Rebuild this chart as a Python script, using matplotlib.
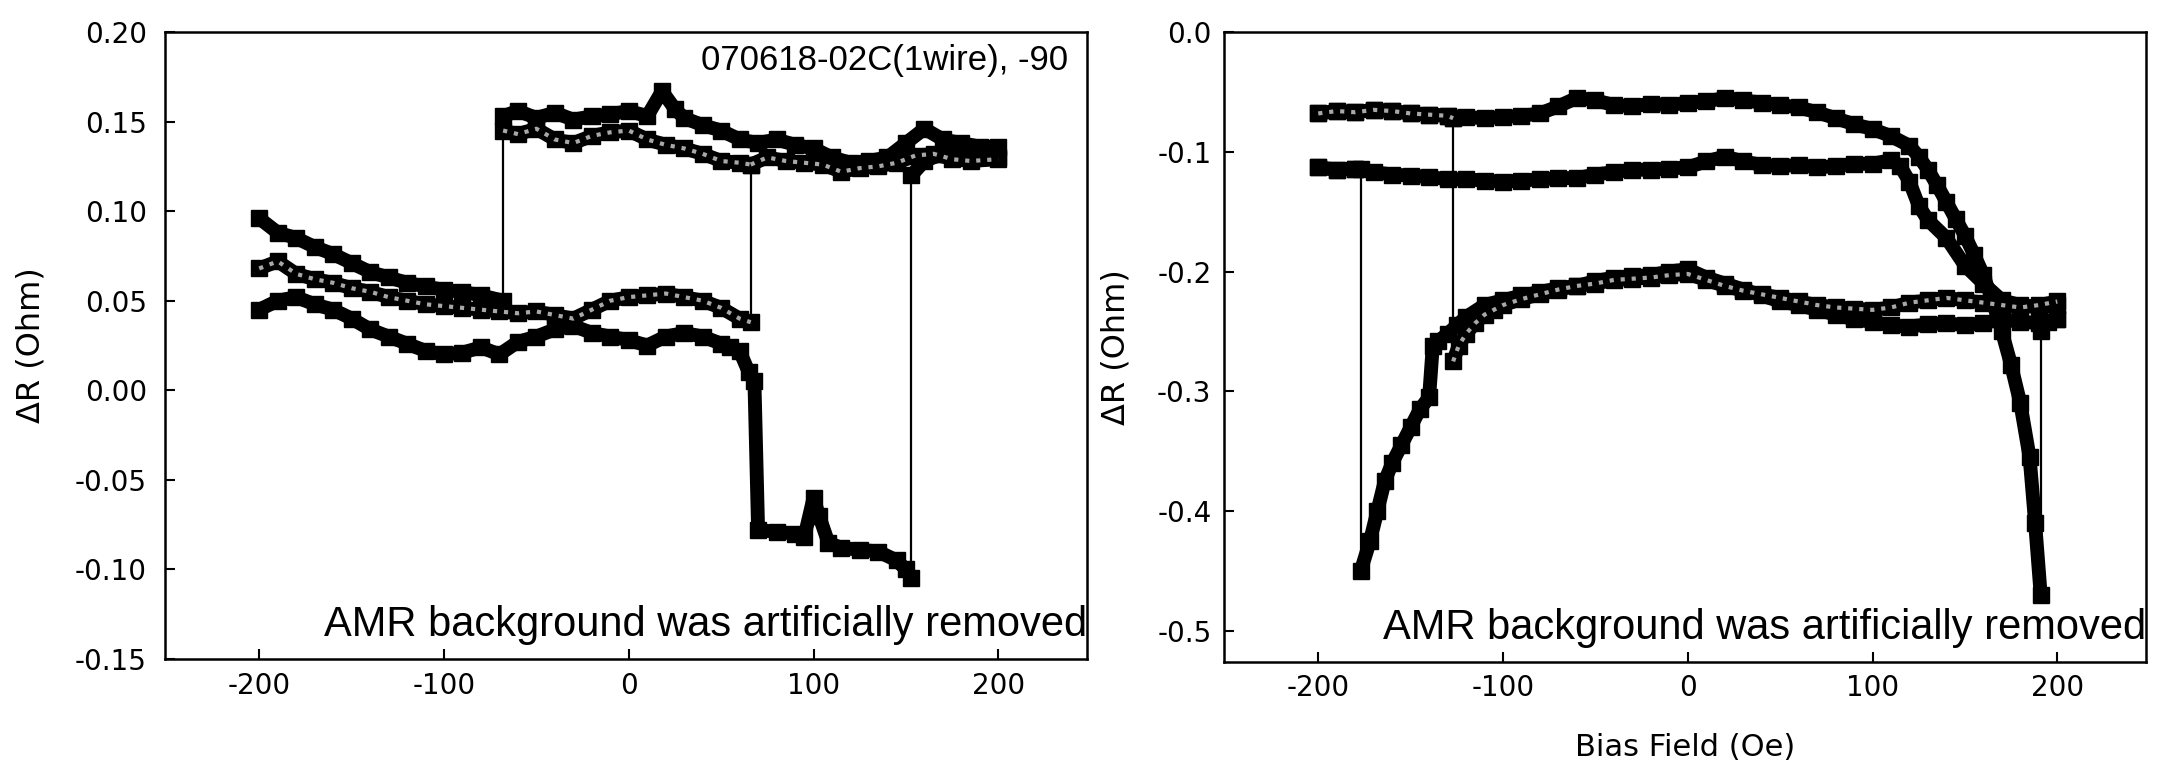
import numpy as np
import matplotlib
matplotlib.use("Agg")
import matplotlib.pyplot as plt

plt.rcParams['font.family'] = ['Liberation Sans', 'DejaVu Sans']

# ---- left panel data (Bias field in Oe, dR in Ohm) ----
# branch A: low part then jump up to the top band
la_x = [-200, -190, -180, -170, -160, -150, -140, -130, -120, -110, -100, -90, -80, -68]
la_y = [0.096, 0.088, 0.085, 0.080, 0.076, 0.071, 0.066, 0.063, 0.060, 0.058, 0.056, 0.055, 0.053, 0.050]
ta_x = [-68, -60, -50, -40, -30, -20, -10, 0, 10, 18, 25, 30, 40, 50, 60, 70, 80, 90, 100,
        110, 120, 130, 140, 150, 160, 170, 180, 190, 200]
ta_y = [0.153, 0.156, 0.152, 0.155, 0.151, 0.153, 0.154, 0.156, 0.153, 0.167, 0.157, 0.152, 0.148,
        0.145, 0.140, 0.138, 0.140, 0.137, 0.135, 0.130, 0.127, 0.128, 0.130, 0.138, 0.146, 0.140,
        0.138, 0.136, 0.136]

# branch B: middle low part then jump at +66
lb_x = [-200, -190, -180, -170, -160, -150, -140, -130, -120, -110, -100, -90, -80, -70, -60,
        -50, -40, -30, -20, -10, 0, 10, 20, 30, 40, 50, 60, 66]
lb_y = [0.068, 0.072, 0.065, 0.062, 0.060, 0.057, 0.055, 0.052, 0.050, 0.048, 0.047, 0.046, 0.045,
        0.044, 0.043, 0.044, 0.042, 0.040, 0.045, 0.050, 0.052, 0.053, 0.054, 0.052, 0.050, 0.046,
        0.040, 0.038]
tb_x = [66, 75, 85, 95, 105, 115, 125, 135, 145, 155, 165, 175, 185, 200]
tb_y = [0.126, 0.130, 0.128, 0.127, 0.126, 0.122, 0.124, 0.125, 0.127, 0.131, 0.132, 0.129, 0.128, 0.129]

# branch C: lowest part, drops negative at +70, jumps up at +153
lc_x = [-200, -190, -180, -170, -160, -150, -140, -130, -120, -110, -100, -90, -80, -70, -60,
        -50, -40, -30, -20, -10, 0, 10, 20, 30, 40, 50, 55, 60, 65, 68, 70, 80, 90, 95, 100,
        103, 108, 115, 125, 135, 145, 150, 153]
lc_y = [0.045, 0.050, 0.052, 0.048, 0.045, 0.040, 0.034, 0.030, 0.026, 0.022, 0.020, 0.021, 0.024,
        0.020, 0.027, 0.030, 0.034, 0.036, 0.032, 0.030, 0.028, 0.025, 0.030, 0.032, 0.030, 0.026,
        0.024, 0.022, 0.010, 0.005, -0.078, -0.079, -0.080, -0.082, -0.060, -0.070, -0.085,
        -0.088, -0.089, -0.090, -0.095, -0.100, -0.105]
tc_x = [153, 160, 170, 180, 190, 200]
tc_y = [0.120, 0.128, 0.132, 0.133, 0.131, 0.130]

# lower line of the top band
t2_x = [-68, -60, -50, -40, -30, -20, -10, 0, 10, 20, 30, 40, 50, 60, 66]
t2_y = [0.145, 0.143, 0.146, 0.140, 0.138, 0.142, 0.144, 0.145, 0.140, 0.137, 0.135, 0.132,
        0.128, 0.127, 0.126]

# ---- right panel data ----
top_x = [-200, -190, -180, -170, -160, -150, -140, -130, -127, -120, -110, -100, -90, -80, -70,
         -60, -50, -40, -30, -20, -10, 0, 10, 20, 30, 40, 50, 60, 70, 80, 90, 100, 110, 120,
         125, 130, 135, 140, 145, 150, 155, 160, 165, 170, 175, 180, 185, 188, 191]
top_y = [-0.068, -0.066, -0.067, -0.065, -0.066, -0.068, -0.069, -0.070, -0.072, -0.071, -0.072,
         -0.071, -0.070, -0.068, -0.062, -0.055, -0.057, -0.061, -0.062, -0.060, -0.061, -0.059,
         -0.058, -0.055, -0.057, -0.059, -0.061, -0.063, -0.067, -0.072, -0.077, -0.081, -0.087,
         -0.095, -0.104, -0.115, -0.128, -0.142, -0.156, -0.170, -0.186, -0.203, -0.225, -0.250,
         -0.278, -0.310, -0.355, -0.410, -0.470]
top_end_x = [191, 195, 200]
top_end_y = [-0.250, -0.242, -0.240]

mid_x = [-200, -190, -180, -170, -160, -150, -140, -130, -120, -110, -100, -90, -80, -70, -60,
         -50, -40, -30, -20, -10, 0, 10, 20, 30, 40, 50, 60, 70, 80, 90, 100, 110, 115, 120,
         125, 130, 140, 150, 160, 170, 180, 190, 200]
mid_y = [-0.113, -0.115, -0.114, -0.117, -0.119, -0.120, -0.121, -0.123, -0.123, -0.124, -0.125,
         -0.124, -0.123, -0.122, -0.122, -0.119, -0.117, -0.115, -0.115, -0.114, -0.113, -0.108,
         -0.104, -0.108, -0.111, -0.112, -0.111, -0.113, -0.112, -0.110, -0.110, -0.107, -0.112,
         -0.125, -0.145, -0.157, -0.172, -0.195, -0.210, -0.224, -0.228, -0.230, -0.228]

bot1_x = [-177, -172, -168, -164, -160, -155, -150, -145, -140, -138, -135, -130, -125, -120,
          -110, -100, -90, -80, -70, -60, -50, -40, -30, -20, -10, 0, 10, 20, 30, 40, 50, 60,
          70, 80, 90, 100, 110, 120, 130, 140, 150, 160, 170, 180, 190, 200]
bot1_y = [-0.450, -0.425, -0.400, -0.375, -0.360, -0.345, -0.330, -0.315, -0.305, -0.262,
          -0.258, -0.252, -0.245, -0.238, -0.228, -0.224, -0.220, -0.217, -0.214, -0.212, -0.208,
          -0.205, -0.204, -0.203, -0.200, -0.198, -0.205, -0.210, -0.215, -0.220, -0.225, -0.228,
          -0.232, -0.236, -0.240, -0.242, -0.245, -0.246, -0.244, -0.243, -0.245, -0.243, -0.240,
          -0.242, -0.243, -0.240]

bot2_x = [-127, -124, -120, -115, -110, -105, -100, -90, -80, -70, -60, -50, -40, -30, -20, -10,
          0, 10, 20, 30, 40, 50, 60, 70, 80, 90, 100, 110, 120, 130, 140, 150, 160, 170, 180,
          190, 200]
bot2_y = [-0.275, -0.262, -0.252, -0.243, -0.236, -0.232, -0.228, -0.223, -0.219, -0.215, -0.212,
          -0.210, -0.207, -0.206, -0.205, -0.203, -0.202, -0.207, -0.212, -0.216, -0.219, -0.222,
          -0.225, -0.228, -0.230, -0.231, -0.232, -0.230, -0.226, -0.224, -0.222, -0.224, -0.226,
          -0.228, -0.230, -0.228, -0.225]

left_yticks = [0.20, 0.15, 0.10, 0.05, 0.00, -0.05, -0.10, -0.15]
right_yticks = [0.0, -0.1, -0.2, -0.3, -0.4, -0.5]
xticks = [-200, -100, 0, 100, 200]

TICK_FONT = ['DejaVu Sans']


def draw_branch(ax, segs, gray=False):
    # thick blocky band for each segment, thin line for each jump between them
    for i, (sx, sy) in enumerate(segs):
        ax.plot(sx, sy, '-s', color='k', lw=10, ms=11, solid_capstyle='butt', zorder=3)
        if gray:
            # stippled look where two sweeps overlap
            ax.plot(sx, sy, ':', color='#a8a8a8', lw=3, zorder=4)
        if i + 1 < len(segs):
            nx, ny = segs[i + 1]
            ax.plot([sx[-1], nx[0]], [sy[-1], ny[0]], color='k', lw=1.6, zorder=2)


def style(ax, ypad):
    for sp in ax.spines.values():
        sp.set_linewidth(1.8)
    ax.tick_params(direction='in', length=7, width=1.5, labelsize=20)
    ax.tick_params(axis='x', pad=9)
    ax.tick_params(axis='y', pad=ypad)
    ax.set_xlim(-251, 248)
    ax.set_xticks(xticks)
    ax.set_xticklabels([str(v) for v in xticks])
    for lab in ax.get_xticklabels():
        lab.set_family(TICK_FONT)


fig = plt.figure(figsize=(21.59, 7.63), dpi=100)
ax1 = fig.add_axes([165 / 2159, 104 / 763, 922 / 2159, 627 / 763])
ax2 = fig.add_axes([1224 / 2159, 101 / 763, 922 / 2159, 630 / 763])

draw_branch(ax1, [(la_x, la_y), (ta_x, ta_y)])
draw_branch(ax1, [(lb_x, lb_y), (tb_x, tb_y)], gray=True)
draw_branch(ax1, [(lc_x, lc_y), (tc_x, tc_y)])
draw_branch(ax1, [(t2_x, t2_y)], gray=True)

draw_branch(ax2, [(top_x, top_y), (top_end_x, top_end_y)])
draw_branch(ax2, [(mid_x, mid_y)])
draw_branch(ax2, [(mid_x[:3] + [bot1_x[0]], mid_y[:3] + [mid_y[2]]), (bot1_x, bot1_y)])
draw_branch(ax2, [(top_x[:9], top_y[:9]), (bot2_x, bot2_y)], gray=True)

style(ax1, 13)
ax1.set_ylim(-0.15, 0.20)
ax1.set_yticks(left_yticks)
ax1.set_yticklabels(['%.2f' % v for v in left_yticks], family=TICK_FONT)
ax1.set_ylabel('ΔR (Ohm)', fontsize=23, family=TICK_FONT)
ax1.yaxis.set_label_coords(-0.128, 0.5)
ax1.text(0.98, 0.184, '070618-02C(1wire), -90', transform=ax1.get_yaxis_transform(),
         ha='right', va='center', fontsize=25)
ax1.text(1.0, 0.022, 'AMR background was artificially removed', transform=ax1.transAxes,
         ha='right', va='bottom', fontsize=30)

style(ax2, 9)
ax2.set_ylim(-0.526, 0.0)
ax2.set_yticks(right_yticks)
ax2.set_yticklabels(['%.1f' % v for v in right_yticks], family=TICK_FONT)
ax2.set_ylabel('ΔR (Ohm)', fontsize=23, family=TICK_FONT)
ax2.yaxis.set_label_coords(-0.100, 0.5)
ax2.set_xlabel('Bias Field (Oe)', fontsize=22, family=TICK_FONT, labelpad=22)
ax2.text(1.0, 0.022, 'AMR background was artificially removed', transform=ax2.transAxes,
         ha='right', va='bottom', fontsize=30)

fig.savefig('out.png', dpi=100)
